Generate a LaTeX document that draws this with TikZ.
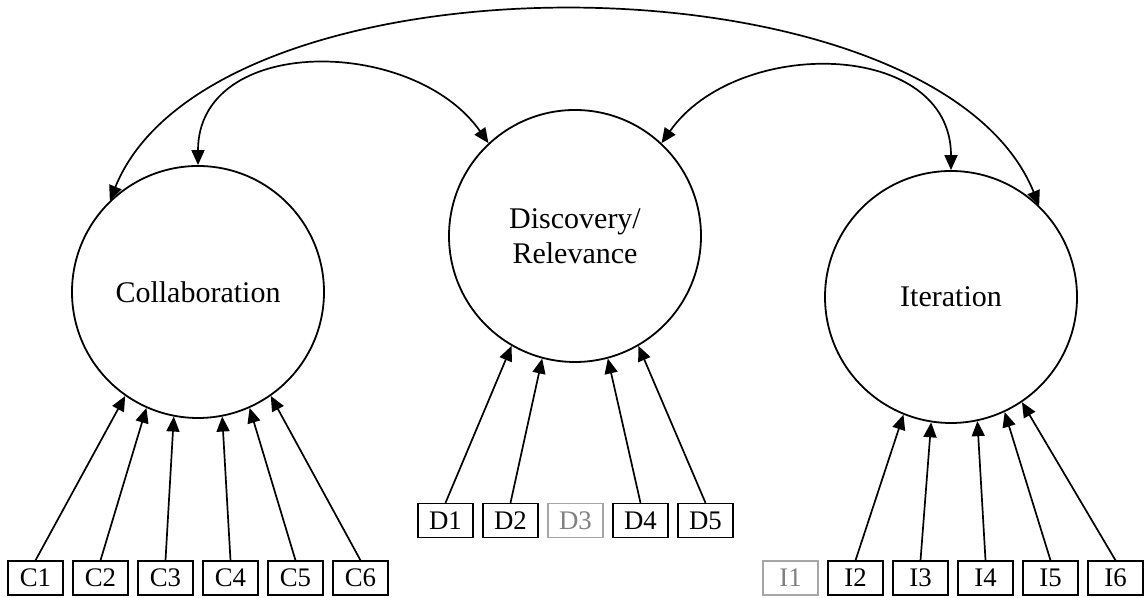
\documentclass[tikz,border=0pt]{standalone}
\usepackage{fontspec}
\setmainfont{Liberation Serif}
\usetikzlibrary{arrows.meta}

\begin{document}
\begin{tikzpicture}[x=0.5pt,y=0.5pt,
    factor/.style={draw,circle,line width=0.9pt,minimum size=126pt,inner sep=0pt,align=center,
      font=\fontsize{15}{17.5}\selectfont},
    item/.style={draw,line width=0.65pt,minimum width=27.5pt,minimum height=17pt,inner sep=0pt,
      font=\fontsize{13.4}{15}\selectfont},
    dropped/.style={item,draw=black!35,text=black!50},
    >={Triangle[length=7.5pt,width=6.5pt]},
    load/.style={->,line width=0.85pt},
    cov/.style={<->,line width=0.85pt}]
        \useasboundingbox (0,0) rectangle (1144,598);

        \node[factor] (col) at (198,306) {Collaboration};
        \node[factor] (dis) at (575,362) {Discovery/\\Relevance};
        \node[factor] (ite) at (951,301) {Iteration};

        \node[item] (c1) at (35.5,20) {C1};
        \node[item] (c2) at (100.5,20) {C2};
        \node[item] (c3) at (165.5,20) {C3};
        \node[item] (c4) at (230.5,20) {C4};
        \node[item] (c5) at (295.5,20) {C5};
        \node[item] (c6) at (360.5,20) {C6};

        \node[item] (d1) at (445.5,77.5) {D1};
        \node[item] (d2) at (510.5,77.5) {D2};
        \node[dropped] (d3) at (575.5,77.5) {D3};
        \node[item] (d4) at (640.5,77.5) {D4};
        \node[item] (d5) at (705.5,77.5) {D5};

        \node[dropped] (i1) at (790.5,20) {I1};
        \node[item] (i2) at (855.5,20) {I2};
        \node[item] (i3) at (920.5,20) {I3};
        \node[item] (i4) at (985.5,20) {I4};
        \node[item] (i5) at (1050.5,20) {I5};
        \node[item] (i6) at (1115.5,20) {I6};

        \draw[load] (c1.north) -- (col.235);
        \draw[load] (c2.north) -- (col.246);
        \draw[load] (c3.north) -- (col.259);
        \draw[load] (c4.north) -- (col.281);
        \draw[load] (c5.north) -- (col.294);
        \draw[load] (c6.north) -- (col.305);

        \draw[load] (d1.north) -- (dis.240);
        \draw[load] (d2.north) -- (dis.255);
        \draw[load] (d4.north) -- (dis.285);
        \draw[load] (d5.north) -- (dis.300);

        \draw[load] (i2.north) -- (ite.248);
        \draw[load] (i3.north) -- (ite.261);
        \draw[load] (i4.north) -- (ite.282);
        \draw[load] (i5.north) -- (ite.295);
        \draw[load] (i6.north) -- (ite.304);

        % covariances
        \draw[cov] (col.90) to[out=90,in=125,looseness=1.15] (dis.133);
        \draw[cov] (dis.47) to[out=55,in=90,looseness=1.15] (ite.90);
        \draw[cov] (col.134) to[out=68,in=112,looseness=0.76] (ite.46);
      \end{tikzpicture}
\end{document}
